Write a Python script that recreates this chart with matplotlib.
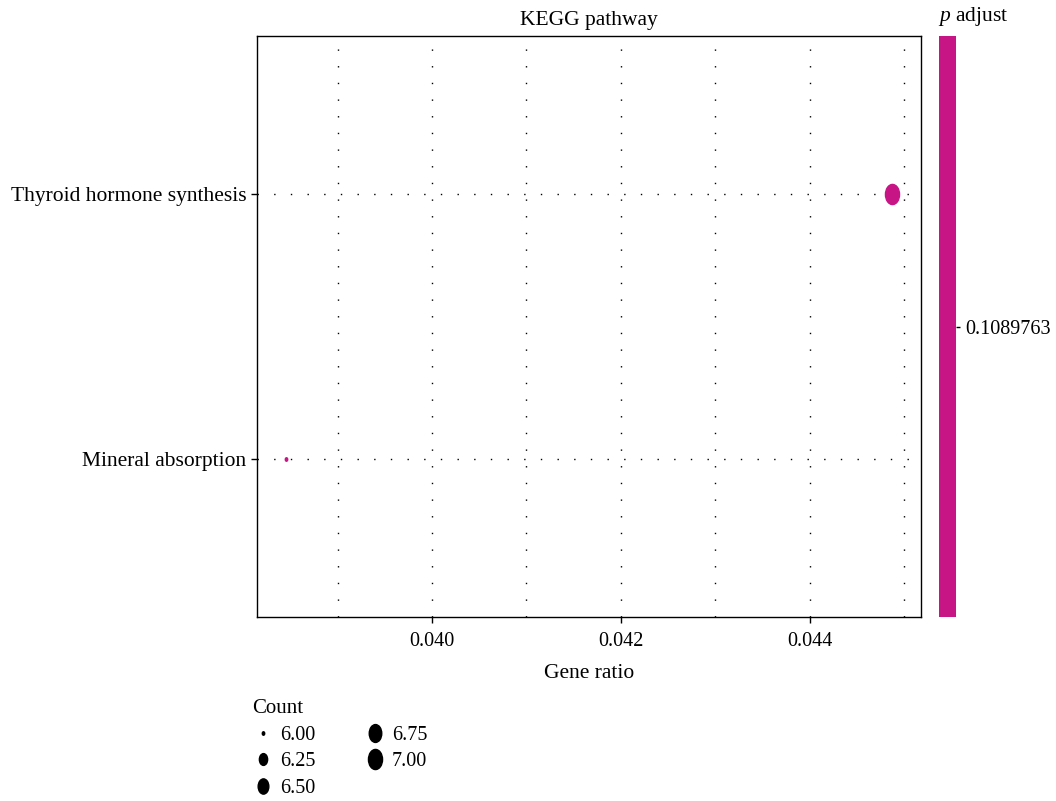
import numpy as np
import matplotlib
matplotlib.use('Agg')
import matplotlib.pyplot as plt
from matplotlib.path import Path
from matplotlib.lines import Line2D
from matplotlib.colors import ListedColormap, Normalize
import matplotlib.cm as cm

plt.rcParams['font.family'] = ['Liberation Serif', 'DejaVu Serif']
plt.rcParams['mathtext.fontset'] = 'custom'
plt.rcParams['mathtext.it'] = 'Liberation Serif:italic'
plt.rcParams['mathtext.rm'] = 'Liberation Serif'

# DATA
pathways = ['Mineral absorption', 'Thyroid hormone synthesis']
gene_ratio = [0.03846, 0.04487]
counts = [6, 7]
p_adjust = 0.1089763
legend_counts = [6.00, 6.25, 6.50, 6.75, 7.00]
dot_color = '#C71585'

# ellipse marker (taller than wide, like the stretched ggplot dots)
circ = Path.unit_circle()
ellipse = Path(circ.vertices * np.array([0.7, 1.0]), circ.codes)

def dot_size(c, smin=2.5, smax=14.5):
    # area-like scale between min and max count
    r = (c - min(counts)) / (max(counts) - min(counts))
    return smin + (smax - smin) * np.sqrt(r)

fig = plt.figure(figsize=(10.56, 8.01), dpi=100)
ax = fig.add_axes([257/1056, 1-617/801, (921-257)/1056, (617-36)/801])

ypos = np.arange(1, len(pathways) + 1)
for x, y, c in zip(gene_ratio, ypos, counts):
    ax.plot(x, y, marker=ellipse, ms=dot_size(c), color=dot_color,
            linestyle='none', zorder=3)

ax.set_xlim(0.038148, 0.045175)
ax.set_ylim(0.4, 2.6)
ax.set_yticks(ypos)
ax.set_yticklabels(pathways, fontsize=15.5)
ax.set_xticks([0.040, 0.042, 0.044])
ax.set_xticklabels(['0.040', '0.042', '0.044'], fontsize=14.5)
ax.set_xticks([0.039, 0.041, 0.043, 0.045], minor=True)
ax.tick_params(axis='both', which='major', length=4, width=1,
               colors='black', direction='out')
ax.tick_params(axis='x', which='major', pad=7)
ax.tick_params(axis='x', which='minor', length=0)
ax.grid(True, which='both', axis='x', color='black', linestyle=(0, (1, 11)),
        linewidth=1.0)
ax.grid(True, which='major', axis='y', color='black', linestyle=(0, (1, 11)),
        linewidth=1.0)
for s in ax.spines.values():
    s.set_linewidth(1.0)
ax.set_xlabel('Gene ratio', fontsize=15.5, labelpad=9)
ax.set_title('KEGG pathway', fontsize=15.5, pad=8)

# colour bar
cax = fig.add_axes([939/1056, 1-617/801, 17/1056, (617-36)/801])
sm = cm.ScalarMappable(norm=Normalize(p_adjust - 0.01, p_adjust + 0.01),
                       cmap=ListedColormap([dot_color]))
cb = fig.colorbar(sm, cax=cax, ticks=[p_adjust])
cb.ax.set_yticklabels(['0.1089763'])
cb.outline.set_visible(False)
cb.ax.tick_params(labelsize=14.5, length=3, width=1)
fig.text(973/1056, 1-17/801, r'$\mathit{p}$ adjust', fontsize=15.5,
         ha='center', va='center')

# size legend
handles = [Line2D([], [], marker=ellipse, ms=dot_size(c), color='black',
                  linestyle='none') for c in legend_counts]
labels = ['%.2f' % c for c in legend_counts]
leg = fig.legend(handles, labels, title='Count', ncol=2, frameon=False,
                 loc='upper left', bbox_to_anchor=(252/1056, 1-699/801),
                 fontsize=14.5, title_fontsize=15, borderpad=0,
                 borderaxespad=0, handletextpad=0.3, columnspacing=2.4,
                 labelspacing=0.38, handlelength=1.1, alignment='left')

fig.savefig('out.png', dpi=100)
